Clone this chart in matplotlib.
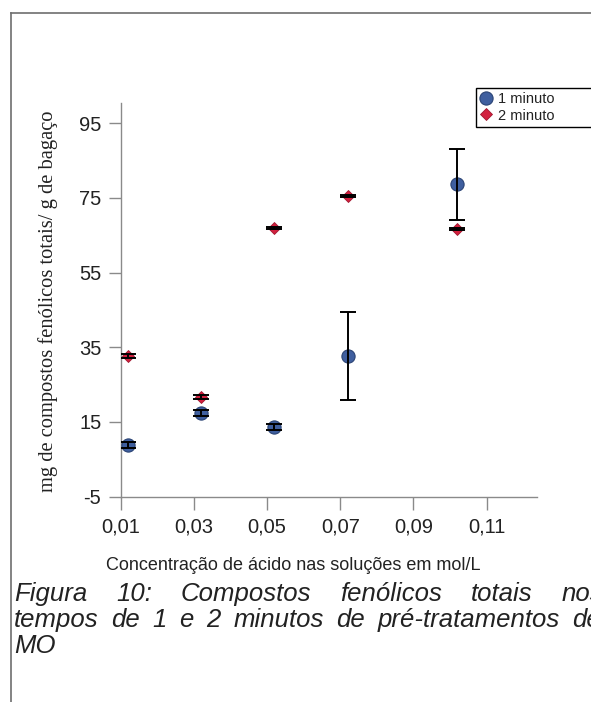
import matplotlib
matplotlib.use('Agg')
import matplotlib.pyplot as plt
from matplotlib.lines import Line2D

# Dados (concentracao em mol/L)
conc = [0.01, 0.03, 0.05, 0.07, 0.10]
um_minuto = [8.8, 17.5, 13.6, 32.6, 78.6]
um_minuto_err = [0.8, 0.8, 0.8, 11.8, 9.5]
dois_minuto = [32.6, 21.7, 67.0, 75.6, 66.6]
dois_minuto_err = [0.5, 0.6, 0.3, 0.3, 0.3]

# eixo do Excel comeca em 0,008 com passo 0,02 (rotulos arredondados)
xticks = [0.008, 0.028, 0.048, 0.068, 0.088, 0.108]
xtick_labels = ['0,01', '0,03', '0,05', '0,07', '0,09', '0,11']
yticks = [-5, 15, 35, 55, 75, 95]

W, H = 591, 702
sans = 'Liberation Sans'
serif = 'Liberation Serif'
txt = '#222222'
axis_gray = '#8a8a8a'

fig = plt.figure(figsize=(W / 100, H / 100), dpi=100)
fig.patch.set_facecolor('white')

# moldura do documento (cortada a direita e em baixo)
fig.add_artist(Line2D([11 / W, 11 / W], [1 - 13 / H, 0], color='#6e6e6e', lw=1.2))
fig.add_artist(Line2D([11 / W, 1], [1 - 13 / H, 1 - 13 / H], color='#6e6e6e', lw=1.2))

ax = fig.add_axes([120.7 / W, 1 - 496.7 / H, 416 / W, 393.7 / H])
ax.set_xlim(0.008, 0.1217)
ax.set_ylim(-5, 100.4)

ax.plot(conc, um_minuto, 'o', ms=9.5, color='#3f5f9f', mec='#2b4475', mew=0.8,
        zorder=3, label='1 minuto')
ax.plot(conc, dois_minuto, 'D', ms=6, color='#d2213f', mec='#a01830', mew=0.6,
        zorder=3, label='2 minuto')
ax.errorbar(conc, um_minuto, yerr=um_minuto_err, fmt='none', ecolor='black',
            elinewidth=1.4, capsize=6, capthick=1.4, zorder=4)
ax.errorbar(conc, dois_minuto, yerr=dois_minuto_err, fmt='none', ecolor='black',
            elinewidth=1.4, capsize=6, capthick=1.4, zorder=4)

ax.set_xticks(xticks)
ax.set_xticklabels(xtick_labels)
ax.set_yticks(yticks)
ax.set_yticklabels([str(v) for v in yticks])
for lab in ax.get_xticklabels() + ax.get_yticklabels():
    lab.set_fontfamily(sans)
    lab.set_fontsize(14.5)
    lab.set_color(txt)
ax.tick_params(axis='both', length=9, width=1, color=axis_gray)
ax.tick_params(axis='x', pad=6)
ax.tick_params(axis='y', pad=5)
for s in ['top', 'right']:
    ax.spines[s].set_visible(False)
for s in ['left', 'bottom']:
    ax.spines[s].set_color(axis_gray)
    ax.spines[s].set_linewidth(1)

fig.text(293.5 / W, 1 - 566 / H, 'Concentração de ácido nas soluções em mol/L',
         ha='center', va='center', fontsize=13, family=sans, color=txt)
fig.text(48 / W, 1 - 301 / H, 'mg de compostos fenólicos totais/ g de bagaço',
         ha='center', va='center', rotation=90, fontsize=14.8, family=serif, color=txt)

leg = fig.legend(loc='upper left', bbox_to_anchor=(476 / W, 1 - 130 / H, 170 / W, 42 / H),
                 bbox_transform=fig.transFigure, mode='expand', frameon=True,
                 fancybox=False, framealpha=1, edgecolor='black',
                 prop={'family': sans, 'size': 10.5}, handlelength=0.8,
                 handletextpad=0.4, borderpad=0.3, borderaxespad=0, labelspacing=0.15)
leg.get_frame().set_linewidth(1)
for t in leg.get_texts():
    t.set_color(txt)

# legenda da figura, justificada como no documento
renderer = fig.canvas.get_renderer()
cap_size = 18.5


def justify(words, ybase, x0, x1):
    ts = [fig.text(0, 1 - ybase / H, w, ha='left', va='baseline', fontsize=cap_size,
                   family=sans, style='italic', color=txt) for w in words]
    ws = [t.get_window_extent(renderer).width for t in ts]
    gap = (x1 - x0 - sum(ws)) / max(len(words) - 1, 1)
    x = x0
    for t, w in zip(ts, ws):
        t.set_x(x / W)
        x += w + gap


justify('Figura 10: Compostos fenólicos totais nos'.split(), 601, 14, 603)
justify('tempos de 1 e 2 minutos de pré-tratamentos de'.split(), 627, 14, 601)
fig.text(14 / W, 1 - 653 / H, 'MO', ha='left', va='baseline', fontsize=cap_size,
         family=sans, style='italic', color=txt)

fig.savefig('out.png', dpi=100)
